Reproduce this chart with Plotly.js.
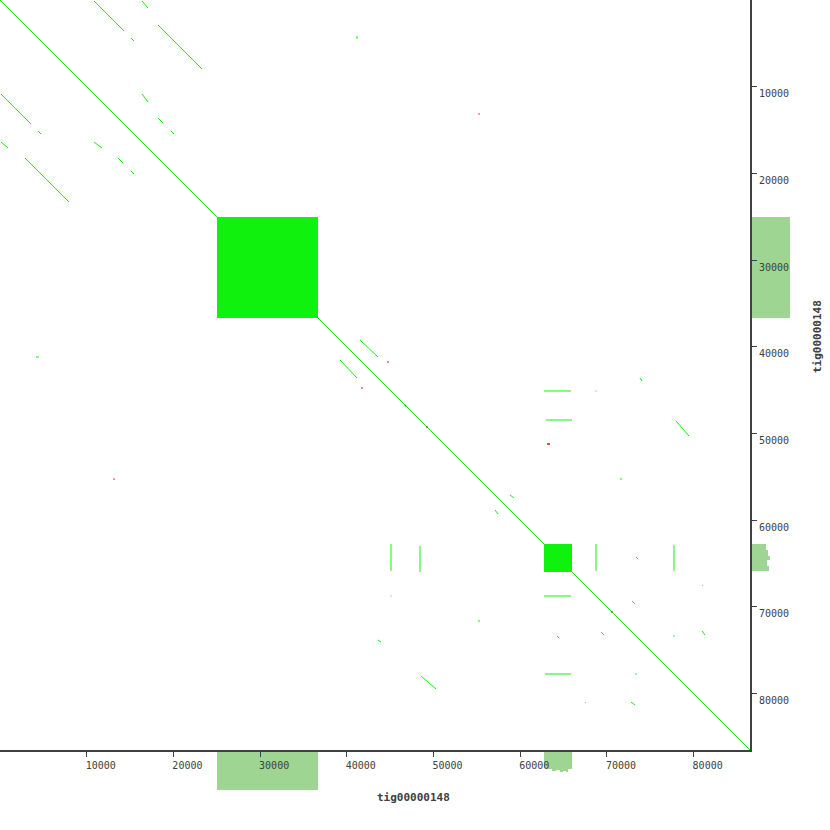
<!DOCTYPE html>
<html><head>
<script src="https://cdn.plot.ly/plotly-3.0.1.min.js"></script>
<style>body{margin:0;background:#fff;} #chart{width:830px;height:830px;}</style>
</head><body><div id="chart"></div>
<script>
// ---- data ----
const seqName = 'tig00000148';
const seqLength = 86500;
const tickValues = [10000, 20000, 30000, 40000, 50000, 60000, 70000, 80000];
const tickLabels = ['10000', '20000', '30000', '40000', '50000', '60000', '70000', '80000'];

// forward matches (x1, y1) -> (x2, y2)
const fwdX1 = [0, 10841, 15108, 16377, 18222, 115, 4383, 115, 2883, 16377, 10841, 18222, 13609, 19721, 15108,
  41519, 39212, 41173, 4150, 62740, 45094, 68680, 45094, 62970, 48439, 73811, 43595, 77963, 48554, 71500, 55243,
  58818, 57088, 68737, 62740, 77732, 62855, 73350, 64239, 80962, 67468, 72889, 69313, 77650, 73350, 80962, 72774];
const fwdY1 = [0, 115, 4383, 115, 2883, 10841, 15108, 16377, 18222, 10841, 16377, 13609, 18222, 15108, 19721,
  39212, 41519, 4150, 41173, 45094, 62740, 45094, 68680, 48439, 62970, 43595, 73811, 48554, 77963, 55243, 71500,
  57088, 58818, 62740, 68737, 62855, 77732, 64239, 73350, 67468, 80962, 69313, 72889, 73350, 77650, 72774, 80962];
const fwdX2 = [86500, 14301, 15454, 17069, 23297, 3575, 4729, 923, 7958, 17069, 11764, 18799, 14186, 20067, 15454,
  43595, 41173, 41173, 4500, 65853, 45094, 68800, 45094, 65969, 48439, 74042, 43941, 79462, 50284, 71750, 55243,
  59280, 57434, 68737, 65853, 77732, 65853, 73600, 64480, 81050, 67560, 73235, 69660, 77850, 73350, 81308, 73235];
const fwdY2 = [86500, 3575, 4729, 923, 7958, 14301, 15454, 17069, 23297, 11764, 17069, 14186, 18799, 15454, 20067,
  41173, 43595, 4500, 41173, 45094, 65853, 45094, 68800, 48439, 65969, 43941, 74042, 50284, 79462, 55243, 71750,
  57434, 59280, 65853, 68737, 65853, 77732, 64480, 73600, 67560, 81050, 69660, 73235, 73350, 77850, 73235, 81308];

// reverse matches
const revX1 = [44700, 41800, 55200, 13180, 63086, 46700, 49180, 70520];
const revY1 = [41800, 44700, 13180, 55200, 51207, 46840, 49300, 70640];
const revX2 = [44800, 41700, 55300, 13100, 63432, 46800, 49300, 70640];
const revY2 = [41700, 44800, 13100, 55300, 51207, 46740, 49180, 70520];

// dense repeat blocks on the diagonal
const blockStart = [25027, 62740];
const blockEnd = [36675, 65969];

// coverage along the bottom (x) and right (y) edges
const covBottomStart = [25027, 44980, 48320, 62740, 63200, 63660, 64120, 64580, 64930, 65280, 65510];
const covBottomEnd   = [36675, 45100, 48440, 63200, 63660, 64120, 64580, 64930, 65280, 65510, 65969];
const covBottomDepth = [40, 2, 2, 18, 19, 21, 20, 22, 21, 22, 19];
const covRightStart = [25027, 62740, 63430, 64120, 64580, 65280, 77650];
const covRightEnd   = [36675, 63430, 64120, 64580, 65280, 65853, 77800];
const covRightDepth = [40, 16, 18, 20, 17, 19, 2];

// ---- build traces ----
function segs(x1, y1, x2, y2) {
  const xs = [], ys = [];
  for (let i = 0; i < x1.length; i++) { xs.push(x1[i], x2[i], null); ys.push(y1[i], y2[i], null); }
  return {xs, ys};
}
const green = '#0ef20e';
const red = '#ff0000';
const covColor = '#9ed592';
const axisColor = '#404040';
const f = segs(fwdX1, fwdY1, fwdX2, fwdY2);
const r = segs(revX1, revY1, revX2, revY2);
const bx = [], by = [];
for (let i = 0; i < blockStart.length; i++) {
  const s = blockStart[i], e = blockEnd[i];
  bx.push(s, e, e, s, s, null); by.push(s, s, e, e, s, null);
}
// main plot on x2/y2 so it is drawn after (above) the coverage strips
const traces = [
  {type: 'bar', x: covBottomStart.map((s, i) => (s + covBottomEnd[i]) / 2),
   width: covBottomStart.map((s, i) => covBottomEnd[i] - s), y: covBottomDepth,
   marker: {color: covColor, line: {width: 0}}, xaxis: 'x2', yaxis: 'y'},
  {type: 'bar', orientation: 'h', y: covRightStart.map((s, i) => (s + covRightEnd[i]) / 2),
   width: covRightStart.map((s, i) => covRightEnd[i] - s), x: covRightDepth,
   marker: {color: covColor, line: {width: 0}}, xaxis: 'x', yaxis: 'y2'},
  {type: 'scatter', x: bx, y: by, mode: 'lines', fill: 'toself', fillcolor: green,
   line: {width: 0, color: green}, hoverinfo: 'skip', xaxis: 'x2', yaxis: 'y2'},
  {type: 'scatter', x: f.xs, y: f.ys, mode: 'lines', line: {width: 1, color: green},
   connectgaps: false, xaxis: 'x2', yaxis: 'y2'},
  {type: 'scatter', x: r.xs, y: r.ys, mode: 'lines', line: {width: 1.5, color: red},
   connectgaps: false, xaxis: 'x2', yaxis: 'y2'}
];

const W = 830;
const tickFont = {family: 'DejaVu Sans Mono', size: 10, color: axisColor};
const layout = {
  width: W, height: W, margin: {l: 0, r: 0, t: 0, b: 0},
  paper_bgcolor: '#fff', plot_bgcolor: 'rgba(0,0,0,0)', showlegend: false, bargap: 0,
  xaxis2: {domain: [0, 750 / W], range: [0, seqLength], tickvals: tickValues, ticktext: tickLabels, ticks: 'outside',
    ticklen: 5, tickcolor: axisColor, showline: true, linecolor: axisColor, linewidth: 2, mirror: true,
    showgrid: false, zeroline: false, tickfont: tickFont, ticklabelshift: 14, anchor: 'y2'},
  yaxis2: {domain: [80 / W, 1], range: [seqLength, 0], side: 'right', tickvals: tickValues, ticktext: tickLabels, ticks: 'outside',
    ticklen: 5, tickcolor: axisColor, showline: true, linecolor: axisColor, linewidth: 2, mirror: true,
    showgrid: false, zeroline: false, tickfont: tickFont, ticklabelshift: -7, anchor: 'x2'},
  yaxis: {domain: [40 / W, 80 / W], range: [40, 0], visible: false, anchor: 'x2', fixedrange: true},
  xaxis: {domain: [750 / W, 791 / W], range: [0, 40.5], visible: false, anchor: 'y2', fixedrange: true},
  annotations: [
    {text: seqName, xref: 'paper', yref: 'paper', x: 413 / W, y: 1 - 797 / W, showarrow: false,
     xanchor: 'center', yanchor: 'middle', font: {family: 'DejaVu Sans Mono', size: 11, weight: 'bold', color: axisColor}},
    {text: seqName, xref: 'paper', yref: 'paper', x: 817 / W, y: 1 - 337 / W, showarrow: false, textangle: -90,
     xanchor: 'center', yanchor: 'middle', font: {family: 'DejaVu Sans Mono', size: 11, weight: 'bold', color: axisColor}}
  ]
};
Plotly.newPlot('chart', traces, layout, {displayModeBar: false, staticPlot: true});
</script>
</body></html>
